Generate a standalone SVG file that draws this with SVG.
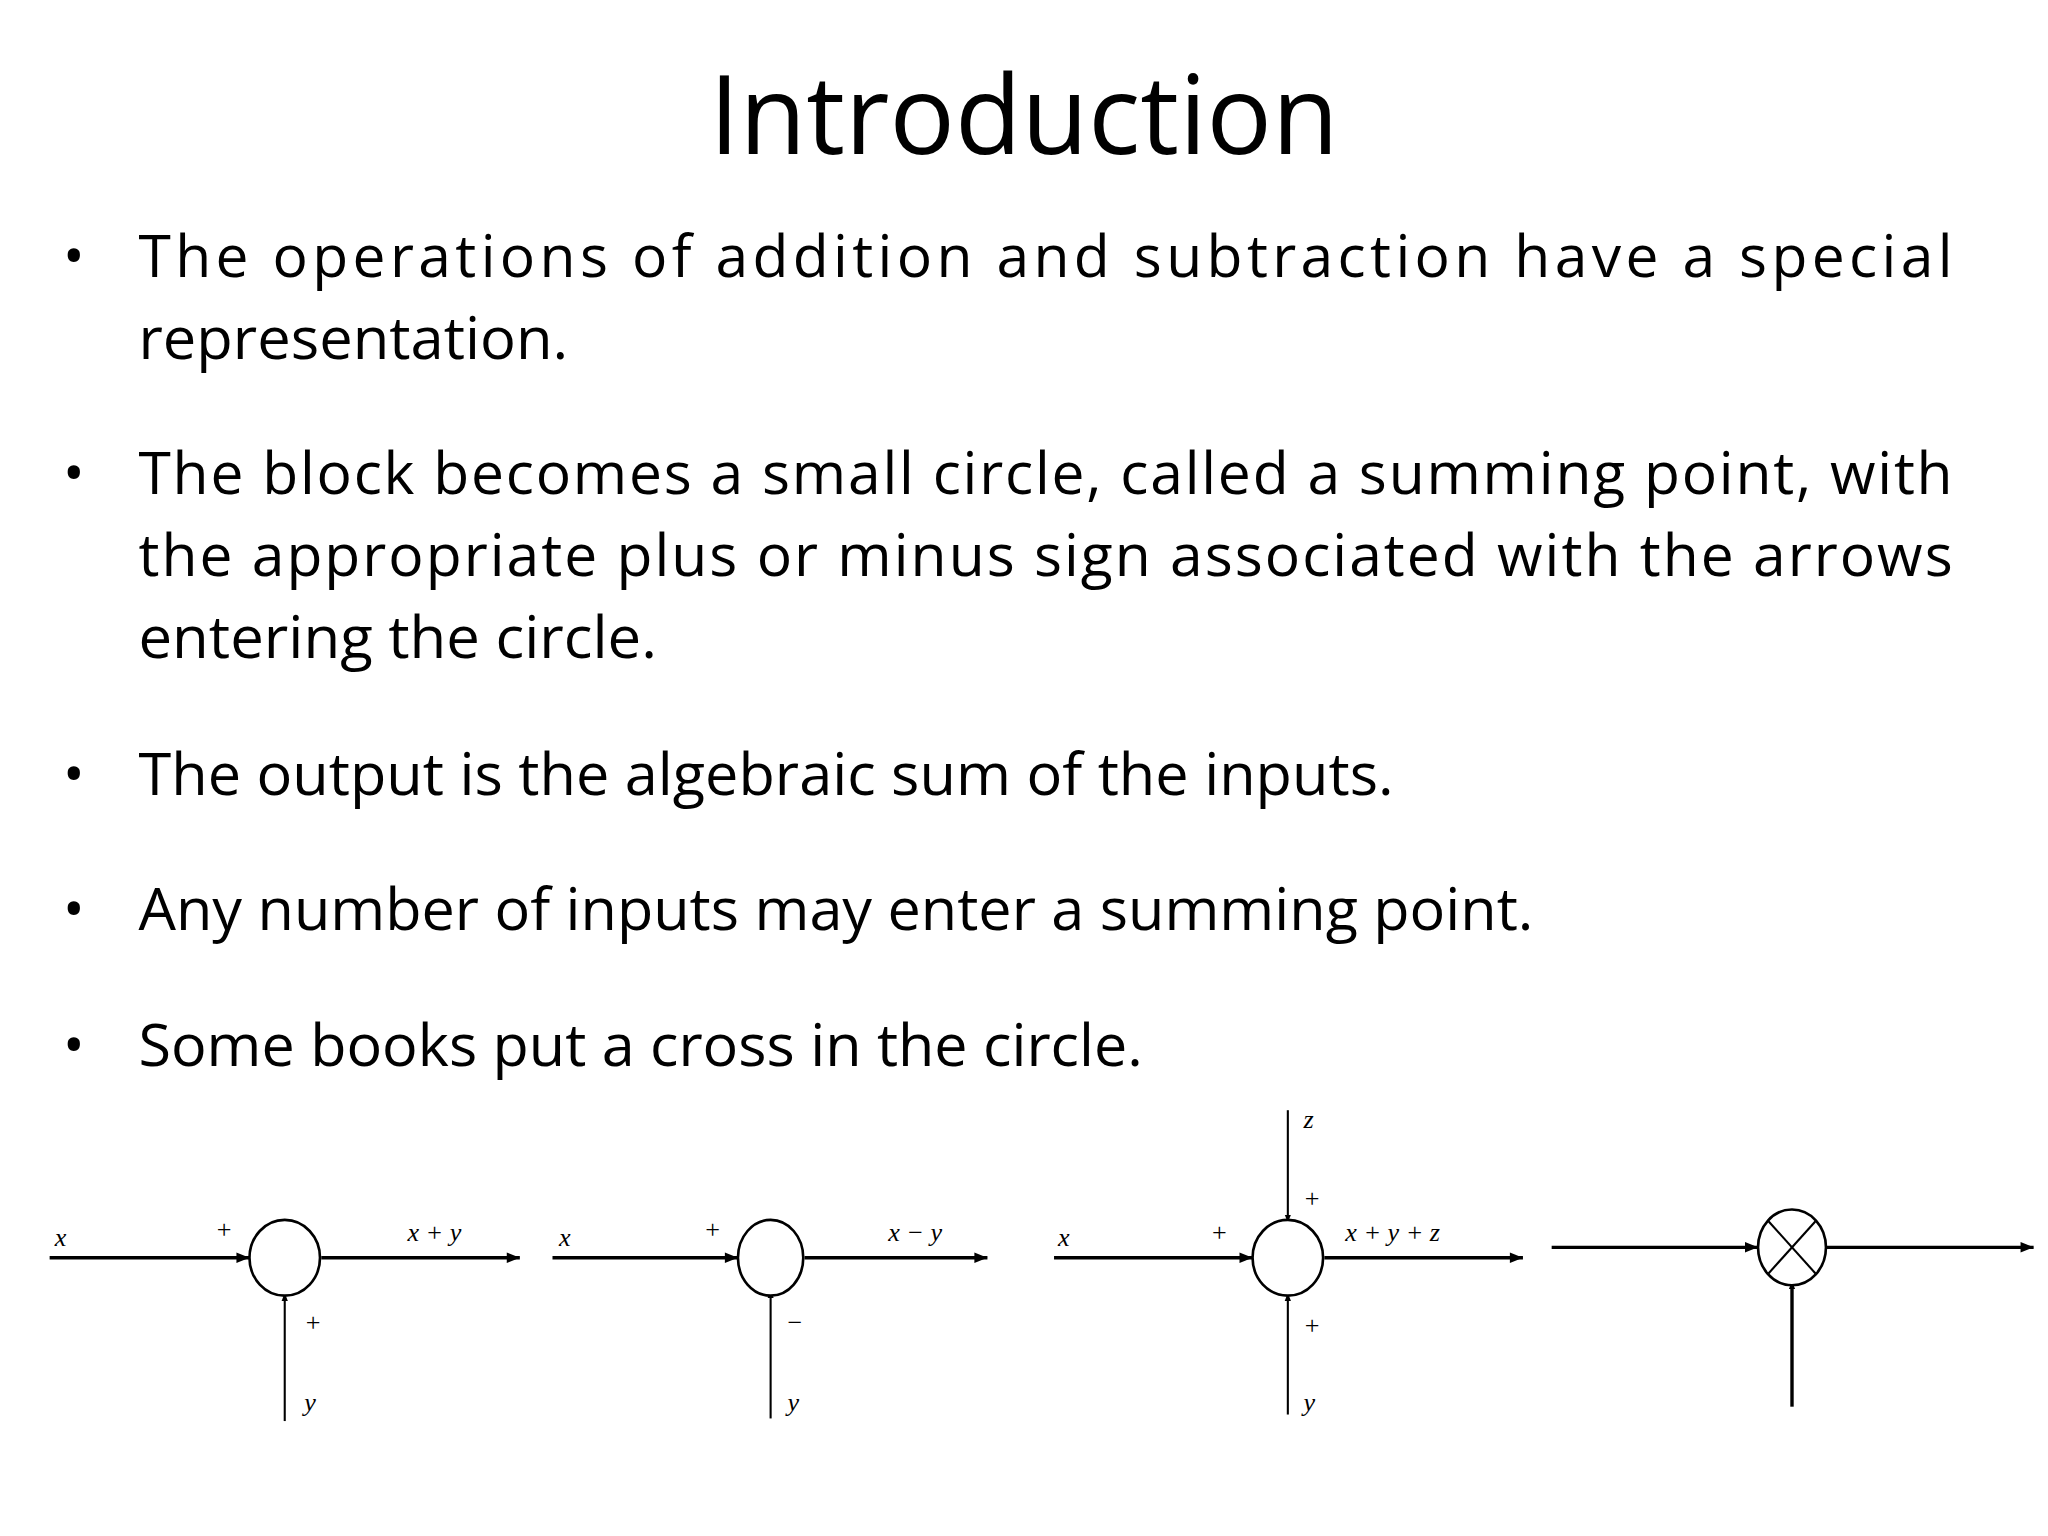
<svg xmlns="http://www.w3.org/2000/svg" width="2048" height="1536" viewBox="0 0 2048 1536">
<style>
.t{font-family:"Open Sans","Liberation Sans",sans-serif;fill:#000}
.b{font-size:45px}
.m{font-family:"Liberation Serif",serif;font-style:italic;font-size:20px}
.s{font-family:"Liberation Serif",serif;font-size:20px}
.ln{stroke:#000;stroke-width:2.6;fill:none}
.th{stroke:#000;stroke-width:1.6;fill:none}
.c{stroke:#000;stroke-width:2;fill:#fff}
</style>
<defs>
<marker id="a" viewBox="0 0 10 10" refX="10" refY="5" markerWidth="6" markerHeight="6" markerUnits="userSpaceOnUse" orient="auto"><path d="M0,1L10,5L0,9z" fill="#000"/></marker>
<marker id="a2" viewBox="0 0 10 10" refX="10" refY="5" markerWidth="12" markerHeight="10" markerUnits="userSpaceOnUse" orient="auto"><path d="M0,1L10,5L0,9z" fill="#000"/></marker>
</defs>
<rect width="2048" height="1536" fill="#fff"/>
<g transform="scale(1.30612)">
<g id="title"><text class="t" x="784" y="118" font-size="84" text-anchor="middle" textLength="482" lengthAdjust="spacingAndGlyphs">Introduction</text></g>
<g id="bullets" class="t b">
<text x="48" y="212">•</text><text x="106" y="212" textLength="1389" lengthAdjust="spacing">The operations of addition and subtraction have a special</text>
<text x="106" y="275" textLength="329" lengthAdjust="spacingAndGlyphs">representation.</text>
<text x="48" y="378">•</text><text x="106" y="378" textLength="1389" lengthAdjust="spacing">The block becomes a small circle, called a summing point, with</text>
<text x="106" y="441" textLength="1389" lengthAdjust="spacing">the appropriate plus or minus sign associated with the arrows</text>
<text x="106" y="504" textLength="397" lengthAdjust="spacingAndGlyphs">entering the circle.</text>
<text x="48" y="609">•</text><text x="106" y="609" textLength="961" lengthAdjust="spacingAndGlyphs">The output is the algebraic sum of the inputs.</text>
<text x="48" y="712">•</text><text x="106" y="712" textLength="1068" lengthAdjust="spacingAndGlyphs">Any number of inputs may enter a summing point.</text>
<text x="48" y="816">•</text><text x="106" y="816" textLength="769" lengthAdjust="spacingAndGlyphs">Some books put a cross in the circle.</text>
</g>
<g id="connectors">
<line class="ln" x1="38" y1="963" x2="191" y2="963" marker-end="url(#a2)"/>
<line class="ln" x1="246" y1="963" x2="398" y2="963" marker-end="url(#a2)"/>
<line class="th" x1="218" y1="1088" x2="218" y2="990" marker-end="url(#a)"/>
<line class="ln" x1="423" y1="963" x2="565" y2="963" marker-end="url(#a2)"/>
<line class="ln" x1="616" y1="963" x2="756" y2="963" marker-end="url(#a2)"/>
<line class="th" x1="590" y1="1086" x2="590" y2="988" marker-end="url(#a)"/>
<line class="ln" x1="807" y1="963" x2="959" y2="963" marker-end="url(#a2)"/>
<line class="ln" x1="1014" y1="963" x2="1166" y2="963" marker-end="url(#a2)"/>
<line class="th" x1="986" y1="850" x2="986" y2="936" marker-end="url(#a)"/>
<line class="th" x1="986" y1="1083" x2="986" y2="990" marker-end="url(#a)"/>
<line class="ln" x1="1188" y1="955" x2="1346" y2="955" marker-end="url(#a2)"/>
<line class="ln" x1="1398" y1="955" x2="1557" y2="955" marker-end="url(#a2)"/>
<line class="ln" x1="1372" y1="1077" x2="1372" y2="981" marker-end="url(#a)"/>
</g>
<g id="sum1"><ellipse class="c" cx="218" cy="963" rx="27" ry="29"/>
<text class="m" x="42" y="954">x</text><text class="s" x="166" y="948">+</text><text class="m" x="312" y="950">x + y</text><text class="s" x="234" y="1019">+</text><text class="m" x="233" y="1080">y</text></g>
<g id="sum2"><ellipse class="c" cx="590" cy="963" rx="25" ry="29"/>
<text class="m" x="428" y="954">x</text><text class="s" x="540" y="948">+</text><text class="m" x="680" y="950">x − y</text><text class="s" x="603" y="1019">−</text><text class="m" x="603" y="1080">y</text></g>
<g id="sum3"><ellipse class="c" cx="986" cy="963" rx="27" ry="29"/>
<text class="m" x="998" y="864">z</text><text class="s" x="999" y="924">+</text><text class="m" x="810" y="954">x</text><text class="s" x="928" y="950">+</text><text class="m" x="1030" y="950">x + y + z</text><text class="s" x="999" y="1021">+</text><text class="m" x="998" y="1080">y</text></g>
<g id="sum4"><ellipse class="c" cx="1372" cy="955" rx="26" ry="29"/>
<line class="th" x1="1354" y1="935" x2="1390" y2="975"/><line class="th" x1="1390" y1="935" x2="1354" y2="975"/></g>
</g>
</svg>
